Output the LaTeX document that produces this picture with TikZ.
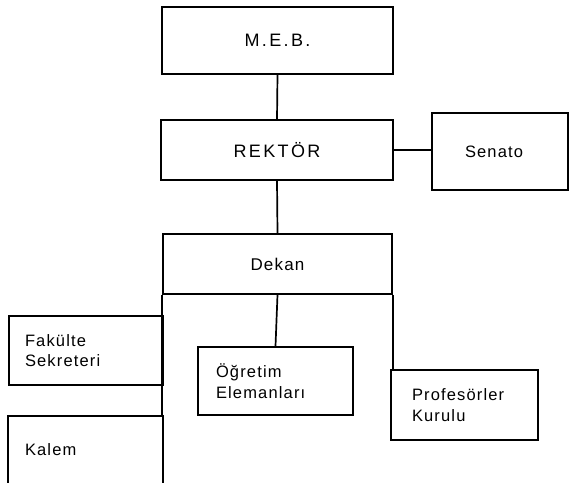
\documentclass[tikz,border=0pt]{standalone}
\usepackage{fontspec}
\setmainfont{Liberation Sans}
\newfontfamily\capsfont[LetterSpace=13]{Liberation Sans}
\newfontfamily\lowfont[LetterSpace=7]{Liberation Sans}
\begin{document}
\begin{tikzpicture}[x=1pt,y=-1pt,
  box/.style={draw, line width=1.5pt, inner sep=0pt, align=center},
  capbox/.style={box, font=\capsfont\fontsize{18}{22}\selectfont},
  lowbox/.style={box, font=\lowfont\fontsize{17}{21}\selectfont},
  leftbox/.style={draw, line width=1.5pt, inner ysep=0pt, align=left,
    font=\lowfont\fontsize{16.5}{20.5}\selectfont},
  conn/.style={line width=1.7pt}]
\useasboundingbox[fill=white] (0,0) rectangle (573,482);
\clip (0,0) rectangle (573,482);
\node[capbox, minimum width=231pt, minimum height=67pt] (meb) at (277.5,40.5) {M.E.B.};
\node[capbox, minimum width=232pt, minimum height=60pt] (rek) at (277,150) {REKTÖR};
\node[leftbox, inner xsep=33pt, text width=70pt, minimum height=77pt] (sen) at (500,151.5) {Senato};
\node[lowbox, minimum width=229pt, minimum height=60pt] (dek) at (277.5,264) {Dekan};
\node[leftbox, inner xsep=16pt, text width=122pt, minimum height=69pt] (fak) at (86,350.5) {Fakülte\\Sekreteri};
\node[leftbox, inner xsep=17pt, text width=121pt, minimum height=68pt] (kal) at (85.5,450) {Kalem};
\node[leftbox, inner xsep=18pt, text width=119pt, minimum height=68pt] (ogr) at (275.5,381) {Öğretim\\Elemanları};
\node[leftbox, inner xsep=21pt, text width=105pt, minimum height=70pt] (pro) at (464.5,405) {Profesörler\\Kurulu};
\draw[conn] (meb.south) -- (rek.north);
\draw[conn] (rek.east) -- (rek.east -| sen.west);
\draw[conn] (rek.south) -- (dek.north);
\draw[conn] (dek.south west) -- (dek.south west |- kal.north);
\draw[conn] (dek.south) -- (ogr.north);
\draw[conn] (dek.south east) -- (dek.south east |- pro.north);
\end{tikzpicture}
\end{document}
